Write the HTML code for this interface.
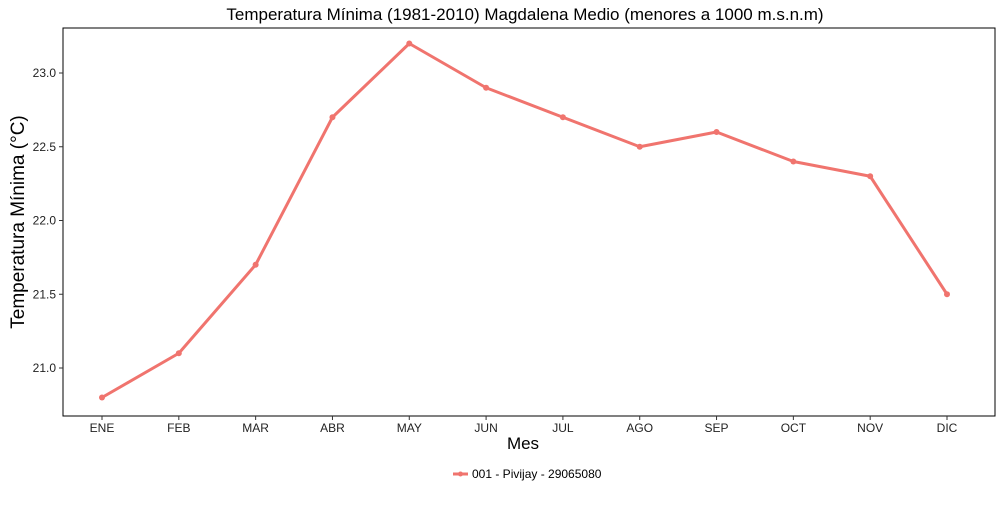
<!DOCTYPE html>
<html><head><meta charset="utf-8"><style>
body{margin:0;background:#fff;font-family:"Liberation Sans",Arial,sans-serif}
</style></head><body>
<svg id="chart" width="1000" height="500" xmlns="http://www.w3.org/2000/svg">
<text x="525" y="20" text-anchor="middle" font-size="17" fill="#000">Temperatura Mínima (1981-2010) Magdalena Medio (menores a 1000 m.s.n.m)</text>
<rect x="63" y="28" width="932" height="388" fill="none" stroke="#000" stroke-width="1"/>
<g id="yaxis"></g>
<g id="xaxis"></g>
<g id="series"></g>
<text x="523" y="449" text-anchor="middle" font-size="17">Mes</text>
<text transform="translate(24,222) rotate(-90)" text-anchor="middle" font-size="19">Temperatura Mínima (°C)</text>
<g>
<line x1="453" y1="474" x2="468" y2="474" stroke="#F0746E" stroke-width="3"/>
<circle cx="460.5" cy="474" r="2.5" fill="#F0746E"/>
<text x="472" y="478" font-size="12">001 - Pivijay - 29065080</text>
</g>
</svg>
<script>
const categories=["ENE","FEB","MAR","ABR","MAY","JUN","JUL","AGO","SEP","OCT","NOV","DIC"];
const values=[20.8,21.1,21.7,22.7,23.2,22.9,22.7,22.5,22.6,22.4,22.3,21.5];
const yTicks=[21.0,21.5,22.0,22.5,23.0];
const NS="http://www.w3.org/2000/svg";
const x=i=>102+i*(947-102)/11;
const y=v=>368-(v-21.0)*147.5;
function mk(t,a,p){const e=document.createElementNS(NS,t);for(const k in a)e.setAttribute(k,a[k]);p.appendChild(e);return e;}
const ya=document.getElementById('yaxis'),xa=document.getElementById('xaxis'),s=document.getElementById('series');
yTicks.forEach(v=>{
 const l=mk('line',{x1:59,x2:63,y1:y(v),y2:y(v),stroke:'#333'},ya);
 
 
 const t=mk('text',{x:56,y:y(v)+4,'text-anchor':'end','font-size':12,fill:'#222'},ya);
 t.textContent=v.toFixed(1);
 
 
});
categories.forEach((c,i)=>{
 const l=mk('line',{x1:x(i),x2:x(i),y1:416,y2:420,stroke:'#333'},xa);
 
 
 const t=mk('text',{x:x(i),y:432,'text-anchor':'middle','font-size':12,fill:'#222'},xa);
 t.textContent=c;
 
 
});
const pl=mk('polyline',{points:values.map((v,i)=>x(i)+','+y(v)).join(' '),fill:'none',stroke:'#F0746E','stroke-width':3,'stroke-linejoin':'round'},s);


values.forEach((v,i)=>{
 const c=mk('circle',{cx:x(i),cy:y(v),r:3,fill:'#F0746E'},s);
 
 
});
</script>
</body></html>
